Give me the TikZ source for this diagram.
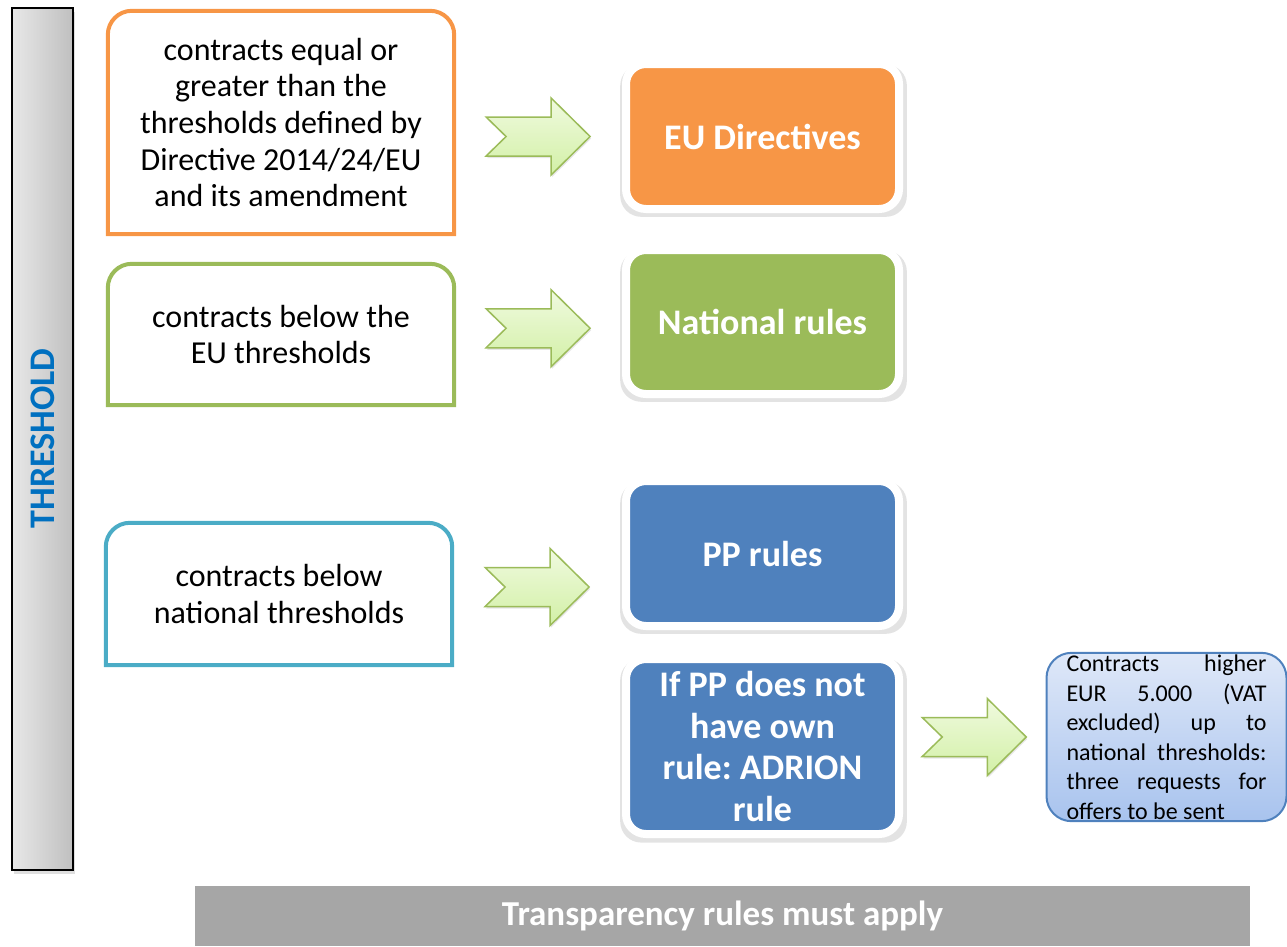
\documentclass[tikz,border=0pt]{standalone}
\usepackage{fontspec}
\setmainfont{Carlito}
\usepackage{tikz}
\usetikzlibrary{positioning,calc,shadows}
\frenchspacing

\definecolor{euorange}{HTML}{F79646}
\definecolor{natgreen}{HTML}{9BBB59}
\definecolor{lowcyan}{HTML}{4BACC6}
\definecolor{ppblue}{HTML}{4F81BD}
\definecolor{thrblue}{HTML}{0070C0}
\definecolor{bargray}{HTML}{A6A6A6}
\definecolor{arrowtop}{HTML}{F0FADF}
\definecolor{arrowbottom}{HTML}{D2F0A6}
\definecolor{notetop}{HTML}{DFE8F8}
\definecolor{notebottom}{HTML}{A8C3EE}

% border of a condition box: rounded on top only
\newcommand\topborder[2]{%
  \draw[#2, line width=4pt] (#1.south west) -- ([yshift=-24pt]#1.north west)
    arc[start angle=180, end angle=90, radius=24pt] -- ([xshift=-24pt]#1.north east)
    arc[start angle=90, end angle=0, radius=24pt] -- (#1.south east) -- cycle;}

\begin{document}
\begin{tikzpicture}[x=1pt, y=-1pt,
condnode/.style={rectangle, minimum width=346pt, align=center, font=\fontsize{32}{36.7}\selectfont},
rulenode/.style={rectangle, rounded corners=20pt, draw=white, line width=8pt, minimum width=273pt, align=center, text=white, font=\fontsize{36}{41.7}\selectfont\bfseries, drop shadow={shadow xshift=1pt, shadow yshift=-4pt, shadow scale=1.05, opacity=0.22}},
barnode/.style={rectangle, draw=black, line width=2pt, left color=black!9, right color=black!25, minimum width=61pt, minimum height=862pt, drop shadow={shadow xshift=2pt, shadow yshift=-4pt, opacity=0.25}},
notenode/.style={rectangle, rounded corners=25pt, draw=ppblue, line width=2pt, top color=notetop, bottom color=notebottom, minimum width=240pt, minimum height=168pt, text width=200pt, align=justify, inner ysep=2pt, font=\fontsize{24}{29.5}\selectfont},
blockarrow/.pic={
  \draw[natgreen, line width=1.5pt, top color=arrowtop, bottom color=arrowbottom, drop shadow={shadow xshift=1pt, shadow yshift=-2pt, opacity=0.2}]
    (-52,-19.5) -- (13,-19.5) -- (13,-38.5) -- (52,0) -- (13,38.5) -- (13,19.5) -- (-52,19.5) -- (-32,0) -- cycle;
},
]
\useasboundingbox (0,0) rectangle (1287,946);

%Nodes
\node[barnode]                (thrbar)   at (42.5,438.5)   {};
\node[rotate=90, text=thrblue, font=\fontsize{36}{42}\selectfont\bfseries] (thrlabel) at (thrbar.center) {THRESHOLD};

\node[condnode, minimum height=223pt] (cond1) at (281,122.5) {contracts equal or\\greater than the\\thresholds defined by\\Directive 2014/24/EU\\and its amendment};
\node[condnode, minimum height=141pt] (cond2) at (281,334.5) {contracts below the\\EU thresholds};
\node[condnode, minimum height=142pt] (cond3) at (279,594)   {contracts below\\national thresholds};

\node[rulenode, fill=euorange, minimum height=145pt] (rule1) at (762.5,136.5) {EU Directives};
\node[rulenode, fill=natgreen, minimum height=144pt] (rule2) at (762.5,322)   {National rules};
\node[rulenode, fill=ppblue, minimum height=145pt]   (rule3) at (762.5,553.5) {PP rules};
\node[rulenode, fill=ppblue, minimum height=175pt]   (rule4) at (762.5,746.5) {If PP does not\\have own\\rule: ADRION\\rule};

\node[notenode] (note) at (1166.5,737) {Contracts higher\linebreak EUR 5.000 (VAT\linebreak excluded) up to\linebreak national thresholds:\linebreak three requests for\linebreak offers to be sent};

\node[rectangle, fill=bargray, minimum width=1055pt, minimum height=60pt, text=white, font=\fontsize{35}{42}\selectfont\bfseries] (transp) at (722.5,916) {Transparency rules must apply};

%Borders
\topborder{cond1}{euorange}
\topborder{cond2}{natgreen}
\topborder{cond3}{lowcyan}

%Arrows
\coordinate (a1) at ($(cond1.east)!0.5!(rule1.west)$);
\coordinate (a2) at ($(cond2.east)!0.5!(rule2.west)$);
\coordinate (a3) at ($(cond3.east)!0.5!(rule3.west)$);
\coordinate (a4) at ($(rule4.east)!0.5!(note.west)$);
\pic at (a1 |- rule1.center) {blockarrow};
\pic at (a2) {blockarrow};
\pic[yshift=7pt] at (a3 |- cond3.center) {blockarrow};
\pic at (a4 |- note.center) {blockarrow};

\end{tikzpicture}
\end{document}
